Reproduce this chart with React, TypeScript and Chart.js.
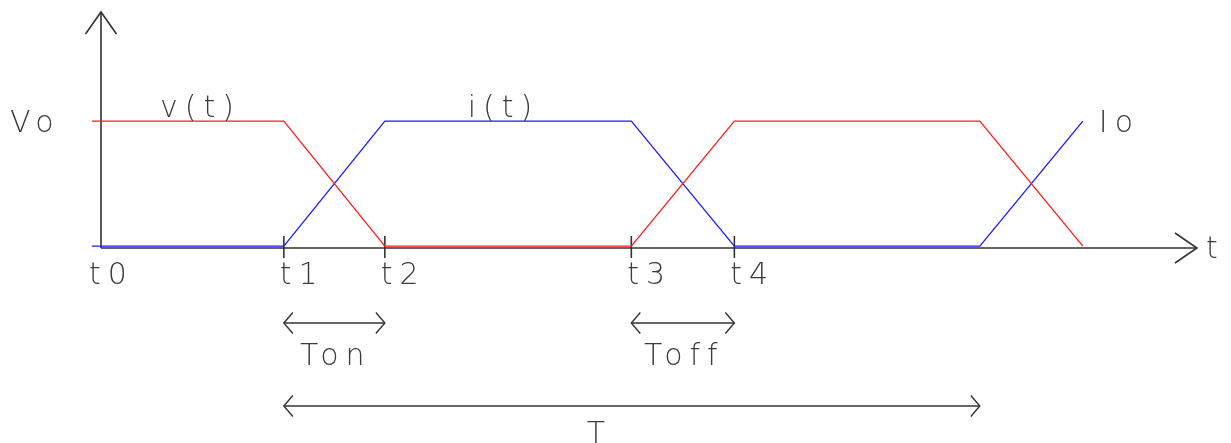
import { useEffect, useRef } from 'react';
import { Chart, registerables } from 'chart.js';

Chart.register(...registerables);

// Switching waveform: voltage v(t) and current i(t) over one period
const waveTimes = [-0.09, 1.81, 2.81, 5.25, 6.27, 8.7, 9.72];
const voltage = [1, 1, 0.015, 0.015, 1, 1, 0.015];
const current = [0.015, 0.015, 1, 1, 0.015, 0.015, 1];

// Time marks along the t axis
const tickLabels = ['t0', 't1', 't2', 't3', 't4'];
const tickTimes = [0, 1.81, 2.81, 5.25, 6.27];

// Interval dimensions drawn under the axis
const spanLabels = ['Ton', 'Toff', 'T'];
const spanStarts = [1.81, 5.25, 1.81];
const spanEnds = [2.81, 6.27, 8.7];
const spanLabelCenters = [2.29, 5.74, 4.9];
const spanRows = [0, 0, 1];

// Level and trace names
const levelLabel = 'Vo';
const endLabel = 'Io';
const axisLabel = 't';
const traceLabels = ['v(t)', 'i(t)'];
const traceLabelTimes = [0.95, 3.95];

const X_MAX = 10.85;
const Y_MAX = 1.86;

const INK = '#333333';
const TEXT = '#3c3c3c';
const FONT = '200 30px "DejaVu Sans", "Liberation Sans", sans-serif';
const SPACING = 7;

function arrowHead(
  ctx: CanvasRenderingContext2D,
  tipX: number,
  tipY: number,
  dx: number,
  dy: number,
  len: number,
  half: number
) {
  // dx, dy: unit direction the arrow points to
  const bx = tipX - dx * len;
  const by = tipY - dy * len;
  const px = -dy;
  const py = dx;
  ctx.beginPath();
  ctx.moveTo(bx + px * half, by + py * half);
  ctx.lineTo(tipX, tipY);
  ctx.lineTo(bx - px * half, by - py * half);
  ctx.stroke();
}

function setText(ctx: CanvasRenderingContext2D) {
  ctx.font = FONT;
  ctx.fillStyle = TEXT;
  ctx.textBaseline = 'alphabetic';
  (ctx as any).letterSpacing = SPACING + 'px';
}

const diagramPlugin = {
  id: 'switchingDiagram',
  beforeDatasetsDraw(chart: any) {
    const { ctx, scales } = chart;
    const xs = scales.x;
    const ys = scales.y;
    const x0 = xs.getPixelForValue(0);
    const y0 = ys.getPixelForValue(0);
    const xEnd = xs.getPixelForValue(X_MAX);
    const yTop = ys.getPixelForValue(Y_MAX);

    ctx.save();
    ctx.strokeStyle = INK;
    ctx.lineWidth = 1.6;
    ctx.lineCap = 'butt';

    // axes
    ctx.beginPath();
    ctx.moveTo(x0, y0);
    ctx.lineTo(x0, yTop);
    ctx.moveTo(x0, y0);
    ctx.lineTo(xEnd, y0);
    ctx.stroke();
    arrowHead(ctx, x0, yTop, 0, -1, 22, 15.5);
    arrowHead(ctx, xEnd, y0, 1, 0, 22, 15);

    // tick marks (t0 sits on the vertical axis)
    tickTimes.forEach((t, i) => {
      if (i === 0) return;
      const px = xs.getPixelForValue(t);
      ctx.beginPath();
      ctx.moveTo(px, y0 - 12);
      ctx.lineTo(px, y0 + 10);
      ctx.stroke();
    });

    // interval dimensions
    const rowY = [y0 + 75, y0 + 158];
    ctx.lineWidth = 1.4;
    spanLabels.forEach((_, i) => {
      const a = xs.getPixelForValue(spanStarts[i]);
      const b = xs.getPixelForValue(spanEnds[i]);
      const y = rowY[spanRows[i]];
      ctx.beginPath();
      ctx.moveTo(a, y);
      ctx.lineTo(b, y);
      ctx.stroke();
      arrowHead(ctx, a, y, -1, 0, 9, 10.5);
      arrowHead(ctx, b, y, 1, 0, 9, 10.5);
    });
    ctx.restore();
  },
  afterDatasetsDraw(chart: any) {
    const { ctx, scales } = chart;
    const xs = scales.x;
    const ys = scales.y;
    const y0 = ys.getPixelForValue(0);
    const yHigh = ys.getPixelForValue(1);
    const half = SPACING / 2;

    ctx.save();
    setText(ctx);

    // level label left of the vertical axis
    ctx.textAlign = 'left';
    ctx.fillText(levelLabel, 10, yHigh + 11);

    // trace names above the high level
    ctx.textAlign = 'center';
    traceLabels.forEach((s, i) => {
      ctx.fillText(s, xs.getPixelForValue(traceLabelTimes[i]) + half, yHigh - 4);
    });

    // current level at the end of the rising edge
    ctx.textAlign = 'left';
    ctx.fillText(endLabel, xs.getPixelForValue(waveTimes[waveTimes.length - 1]) + 16, yHigh + 11);

    // axis name
    ctx.fillText(axisLabel, xs.getPixelForValue(X_MAX) + 9, y0 + 10);

    // time labels
    tickTimes.forEach((t, i) => {
      const px = i === 0 ? xs.getPixelForValue(waveTimes[0]) - 3 : xs.getPixelForValue(t) - 4;
      ctx.fillText(tickLabels[i], px, y0 + 36);
    });

    // interval labels
    const labelY = [y0 + 117, y0 + 195];
    ctx.textAlign = 'center';
    spanLabels.forEach((s, i) => {
      ctx.fillText(s, xs.getPixelForValue(spanLabelCenters[i]) + half, labelY[spanRows[i]]);
    });
    ctx.restore();
  },
};

export default function App() {
  const canvasRef = useRef<HTMLCanvasElement | null>(null);

  useEffect(() => {
    const canvas = canvasRef.current;
    if (!canvas) return;
    const chart = new Chart(canvas, {
      type: 'line',
      data: {
        datasets: [
          {
            label: 'v(t)',
            data: waveTimes.map((t, i) => ({ x: t, y: voltage[i] })),
            borderColor: '#ff1a1a',
            borderWidth: 1.3,
            pointRadius: 0,
            tension: 0,
            clip: false as any,
          },
          {
            label: 'i(t)',
            data: waveTimes.map((t, i) => ({ x: t, y: current[i] })),
            borderColor: '#1a1aff',
            borderWidth: 1.3,
            pointRadius: 0,
            tension: 0,
            clip: false as any,
          },
        ],
      },
      options: {
        animation: false,
        responsive: true,
        maintainAspectRatio: false,
        layout: { padding: { left: 101, right: 34, top: 12, bottom: 195 } },
        plugins: {
          legend: { display: false },
          tooltip: { enabled: false },
        },
        events: [],
        scales: {
          x: { type: 'linear', min: 0, max: X_MAX, display: false },
          y: { type: 'linear', min: 0, max: Y_MAX, display: false },
        },
      },
      plugins: [diagramPlugin],
    });
    return () => chart.destroy();
  }, []);

  return (
    <div
      style={{
        position: 'fixed',
        left: 0,
        top: 0,
        width: 1231,
        height: 443,
        background: '#ffffff',
      }}
    >
      <canvas ref={canvasRef} />
    </div>
  );
}
